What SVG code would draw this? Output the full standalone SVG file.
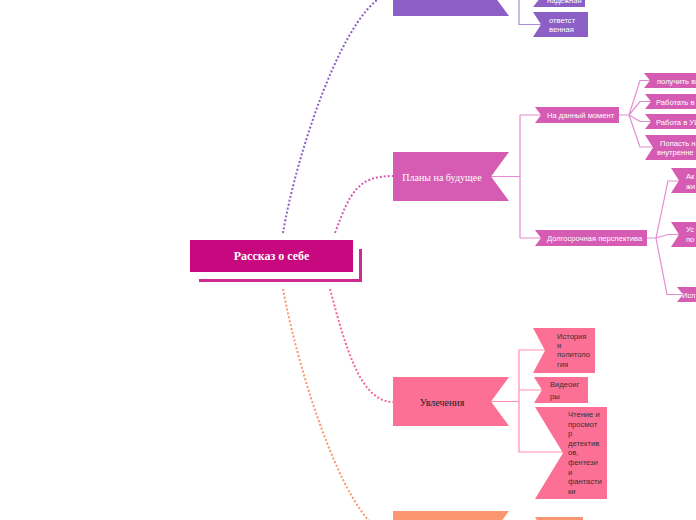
<svg xmlns="http://www.w3.org/2000/svg" width="696" height="520" viewBox="0 0 696 520">
<style>
.dot{fill:none;stroke-width:2;stroke-dasharray:2 2}
.ln{fill:none;stroke-width:1.2}
.t{font-family:"Liberation Sans",Arial,sans-serif;font-size:7.6px}
.w{fill:#ffffff}
.d{fill:#333333}
.pu{fill:#8b5fc5}
.pk{fill:#d55bb3}
.rd{fill:#fd7095}
.or{fill:#fc9670}
</style>
<rect width="696" height="520" fill="#ffffff"/>
<g id="connectors">
<path class="dot" stroke="#8b5fc5" d="M283,233 C295,160 345,0 393,-8"/>
<path class="dot" stroke="#d55bb3" d="M335,233 C350,192 358,176 393,176"/>
<path class="dot" stroke="#f5688f" d="M330,289 C345,345 360,402 393,402"/>
<path class="dot" stroke="#fc9670" d="M283,289 C300,380 350,535 393,535"/>
<g class="ln" stroke="#a98bd8">
<path d="M491,-8 H519 M519,-20 V24.5 H541 M519,-0.5 H539"/>
</g>
<g class="ln" stroke="#e48bcf">
<path d="M491,176.5 H520 M520,115 V238 M520,115 H541 M520,238 H541"/>
<path d="M619,115 H629 L640,80.5 H650 M629,115 L640,101.5 H651 M629,115 L640,121.5 H651 M629,115 L640,147 H652"/>
<path d="M647,238 H656 L668,181 H679 M656,238 L668,234.5 H679 M656,238 L667,294.5 H683"/>
</g>
<g class="ln" stroke="#ff8fab">
<path d="M490,401.5 H519 M519,350 V452 H563 M519,350 H545 M519,390 H542"/>
</g>
</g>
<g id="center">
<rect x="199" y="249" width="163" height="33" fill="#cf2a90"/>
<rect x="195" y="245" width="164" height="34" fill="#ffffff"/>
<rect x="190" y="240" width="163" height="32" fill="#c8087e"/>
<text x="271.5" y="260" text-anchor="middle" font-family="'Liberation Serif','Times New Roman',serif" font-size="12" font-weight="bold" fill="#ffffff">Рассказ о себе</text>
</g>
<g id="node-purple">
<polygon class="pu" points="393,-33 509,-33 491,-8.5 509,16 393,16"/>
</g>
<g id="node-nadezhnaya">
<polygon class="pu" points="533,-8 585,-8 585,7 533,7 539,-0.5"/>
<text class="t w" x="547" y="3">надежная</text>
</g>
<g id="node-otvetstvennaya">
<polygon class="pu" points="533,12 588,12 588,37 533,37 541,24.5"/>
<text class="t w" x="549" y="22.5">ответст</text>
<text class="t w" x="549" y="31.5">венная</text>
</g>
<g id="node-plany">
<polygon class="pk" points="393,152 509,152 491,176.5 509,201 393,201"/>
<text x="442" y="180.5" text-anchor="middle" font-family="'Liberation Serif','Times New Roman',serif" font-size="10" fill="#ffffff">Планы на будущее</text>
</g>
<g id="node-now">
<polygon class="pk" points="535,107 619,107 619,123 535,123 541,115"/>
<text class="t w" x="547" y="118">На данный момент</text>
</g>
<g id="node-long">
<polygon class="pk" points="535,230 647,230 647,246 535,246 541,238"/>
<text class="t w" x="547" y="241">Долгосрочная перспектива</text>
</g>
<g id="node-now-1">
<polygon class="pk" points="644,73 700,73 700,88 644,88 650,80.5"/>
<text class="t w" x="657" y="83.5">получить вы</text>
</g>
<g id="node-now-2">
<polygon class="pk" points="645,94 700,94 700,109 645,109 651,101.5"/>
<text class="t w" x="656" y="104.5">Работать в</text>
</g>
<g id="node-now-3">
<polygon class="pk" points="645,114 700,114 700,129 645,129 651,121.5"/>
<text class="t w" x="656" y="124.5">Работа в УИ</text>
</g>
<g id="node-now-4">
<polygon class="pk" points="645,135 700,135 700,160 645,160 653,147.5"/>
<text class="t w" x="660" y="145.5">Попасть на</text>
<text class="t w" x="657" y="154.5">внутренне</text>
</g>
<g id="node-long-1">
<polygon class="pk" points="671,168 700,168 700,193 671,193 679,180.5"/>
<text class="t w" x="686" y="179">Ак</text>
<text class="t w" x="686" y="189">жи</text>
</g>
<g id="node-long-2">
<polygon class="pk" points="671,222 700,222 700,247 671,247 679,234.5"/>
<text class="t w" x="686" y="232">Ус</text>
<text class="t w" x="686" y="242">по</text>
</g>
<g id="node-long-3">
<polygon class="pk" points="677,287 700,287 700,302 677,302 683,294.5"/>
<text class="t w" x="682" y="297.5">Исп</text>
</g>
<g id="node-uvlecheniya">
<polygon class="rd" points="393,377 509,377 491,401.5 509,426 393,426"/>
<text x="442" y="405.5" text-anchor="middle" font-family="'Liberation Serif','Times New Roman',serif" font-size="10" fill="#222222">Увлечения</text>
</g>
<g id="node-istoriya">
<polygon class="rd" points="533,328 595,328 595,373 533,373 545,350.5"/>
<text class="t d" x="557" y="339">История</text>
<text class="t d" x="557" y="348">и</text>
<text class="t d" x="557" y="357">политоло</text>
<text class="t d" x="557" y="366.5">гия</text>
</g>
<g id="node-videoigry">
<polygon class="rd" points="534,377 588,377 588,403 534,403 542,390"/>
<text class="t d" x="550" y="387">Видеоиг</text>
<text class="t d" x="550" y="399">ры</text>
</g>
<g id="node-chtenie">
<polygon class="rd" points="535,407 607,407 607,499 535,499 563,453"/>
<text class="t d" x="568" y="417">Чтение и</text>
<text class="t d" x="568" y="426.6">просмот</text>
<text class="t d" x="568" y="436.2">р</text>
<text class="t d" x="568" y="445.8">детектив</text>
<text class="t d" x="568" y="455.4">ов,</text>
<text class="t d" x="568" y="465">фентези</text>
<text class="t d" x="568" y="474.6">и</text>
<text class="t d" x="568" y="484.2">фантасти</text>
<text class="t d" x="568" y="493.8">ки</text>
</g>
<g id="node-orange">
<polygon class="or" points="393,511 509,511 491,535.5 509,560 393,560"/>
</g>
<g id="node-orange-1">
<polygon class="or" points="535,517 583,517 583,545 535,545 543,531"/>
</g>
</svg>
